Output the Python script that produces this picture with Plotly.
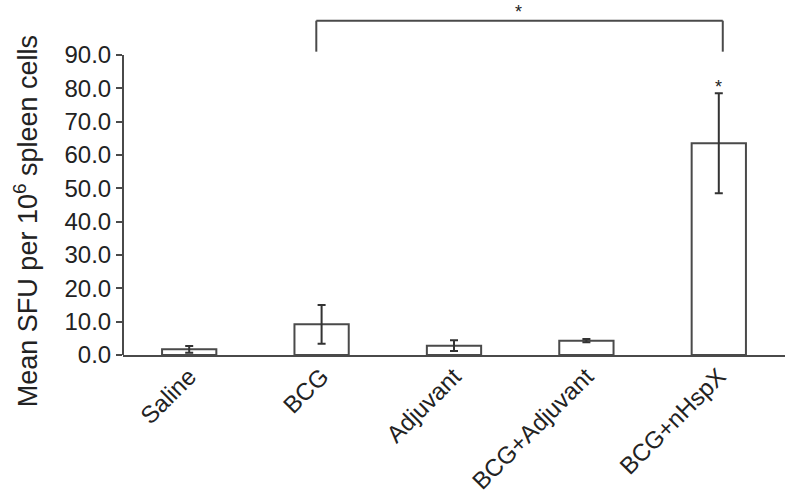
import plotly.graph_objects as go

categories = ["Saline", "BCG", "Adjuvant", "BCG+Adjuvant", "BCG+nHspX"]
mean_sfu = [1.7, 9.2, 2.8, 4.3, 63.5]
sem_sfu = [1.0, 5.8, 1.6, 0.5, 15.0]
y_ticks = [0, 10, 20, 30, 40, 50, 60, 70, 80, 90]
y_tick_labels = ["%.1f" % v for v in y_ticks]

# significance annotations
bracket_from, bracket_to = 1, 4
bracket_top = 100.3
bracket_bottom = 91.0
bracket_star_y = 103.0
star_over_bar = 80.3

FONT = "Liberation Sans, Arial, sans-serif"
LINE = "#4a4a4a"

fig = go.Figure()
fig.add_trace(go.Bar(
    x=list(range(len(categories))),
    y=mean_sfu,
    width=0.41,
    marker=dict(color="white", line=dict(color=LINE, width=2)),
    error_y=dict(type="data", array=sem_sfu, visible=True,
                 color="#333333", thickness=2, width=4),
))

# bracket
fig.add_shape(type="line", x0=bracket_from - 0.04, x1=bracket_from - 0.04,
              y0=bracket_bottom, y1=bracket_top, line=dict(color=LINE, width=2))
fig.add_shape(type="line", x0=bracket_from - 0.04, x1=bracket_to + 0.03,
              y0=bracket_top, y1=bracket_top, line=dict(color=LINE, width=2))
fig.add_shape(type="line", x0=bracket_to + 0.03, x1=bracket_to + 0.03,
              y0=bracket_bottom, y1=bracket_top, line=dict(color=LINE, width=2))
# y axis spine up to 90
fig.add_shape(type="line", xref="paper", x0=0, x1=0, y0=0, y1=y_ticks[-1],
              line=dict(color=LINE, width=2))

fig.add_annotation(x=(bracket_from + bracket_to) / 2 - 0.01, y=bracket_star_y, text="*",
                   showarrow=False, yanchor="middle",
                   font=dict(size=18, color="#222", family=FONT))
fig.add_annotation(x=4, y=star_over_bar, text="*", showarrow=False, yanchor="middle",
                   font=dict(size=18, color="#222", family=FONT))

# y-axis title as annotation (offset below axis centre as in the reference)
fig.add_annotation(xref="paper", yref="paper", x=-0.1465, y=0.377,
                   text="Mean SFU per 10<sup>6</sup> spleen cells", textangle=-90,
                   showarrow=False, xanchor="center", yanchor="middle",
                   font=dict(size=27, color="#222", family=FONT))

fig.update_layout(
    width=785, height=497,
    margin=dict(l=123, r=0, t=0, b=142, autoexpand=False),
    paper_bgcolor="white", plot_bgcolor="white",
    showlegend=False,
    font=dict(family=FONT, size=22, color="#222"),
)
fig.update_xaxes(
    range=[-0.5, 4.5], tickmode="array",
    tickvals=list(range(len(categories))), ticktext=categories,
    tickangle=-45, showline=True, linecolor=LINE, linewidth=2,
    ticks="", showgrid=False, zeroline=False, automargin=False,
    ticklabelstandoff=-4,
    tickfont=dict(size=24, family=FONT),
)
fig.update_yaxes(
    range=[0, 106.5], tickmode="array", tickvals=y_ticks, ticktext=y_tick_labels,
    ticks="outside", ticklen=6, tickwidth=2, tickcolor=LINE,
    showline=False, showgrid=False, zeroline=False, automargin=False,
    tickfont=dict(size=24, family=FONT),
)

fig.write_html("out.html", config={"displayModeBar": False},
               post_script="document.body.style.margin='0';document.body.style.overflow='hidden';")
